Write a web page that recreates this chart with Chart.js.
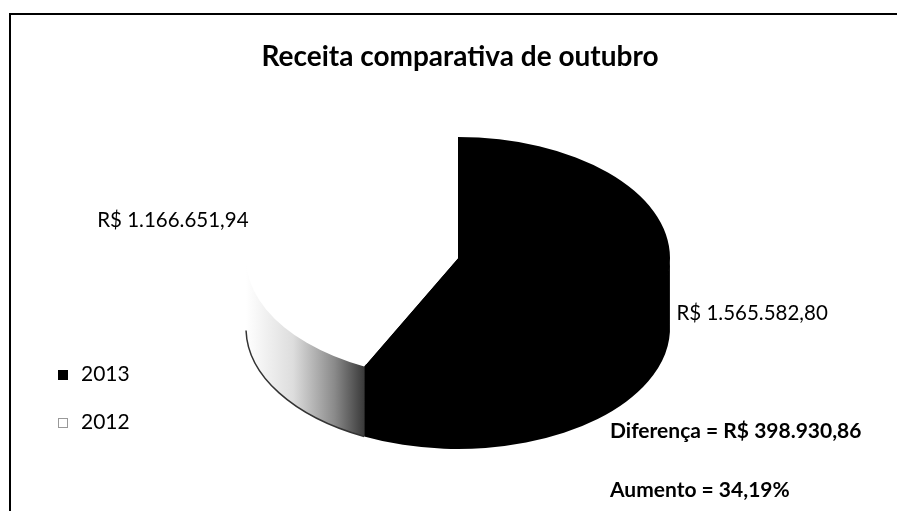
<!DOCTYPE html>
<html lang="pt-BR">
<head>
<meta charset="UTF-8">
<title>Receita comparativa de outubro</title>
<style>
  html, body { margin: 0; padding: 0; background: #fff; }
  #wrap { position: relative; width: 897px; height: 511px; overflow: hidden; }
  canvas { display: block; }
</style>
</head>
<body>
<div id="wrap"><canvas id="pie" width="897" height="511"></canvas></div>
<script src="https://cdn.jsdelivr.net/npm/chart.js"></script>
<script>
  // Chart data
  const title = 'Receita comparativa de outubro';
  const years = ['2013', '2012'];
  const revenue = [1565582.80, 1166651.94];
  const sliceColors = ['#000000', '#ffffff'];

  const brl = (v) => {
    const [i, d] = Math.abs(v).toFixed(2).split('.');
    return 'R$ ' + i.replace(/\B(?=(\d{3})+(?!\d))/g, '.') + ',' + d;
  };
  const pct = (v) => (v * 100).toFixed(2).replace('.', ',') + '%';

  const diff = revenue[0] - revenue[1];
  const growth = diff / revenue[1];

  const FONT = 'Lato, "Open Sans", sans-serif';
  const TILT = 121 / 212;   // vertical squash of the pie
  const DEPTH = 70;         // height of the pie side

  // draws the pie as a tilted disc with a visible side
  const tiltPlugin = {
    id: 'tilt',
    beforeDatasetsDraw(chart) {
      const ctx = chart.ctx;
      const arcs = chart.getDatasetMeta(0).data;
      if (!arcs.length) return;
      const cx = arcs[0].x, cy = arcs[0].y;
      const rx = arcs[0].outerRadius, ry = rx * TILT;

      arcs.forEach((arc, i) => {
        // only the front half (0..PI) of the side is visible
        const a = Math.max(arc.startAngle, -0.03);
        const b = Math.min(arc.endAngle, Math.PI + 0.03);
        if (b <= a) return;
        ctx.save();
        ctx.beginPath();
        // top edge pushed a bit under the top face so no seam shows
        ctx.moveTo(cx + rx * Math.cos(a), cy - 3 + ry * Math.sin(a));
        ctx.ellipse(cx, cy - 3, rx, ry, 0, a, b);
        ctx.lineTo(cx + rx * Math.cos(b), cy + ry * Math.sin(b) + DEPTH);
        ctx.ellipse(cx, cy + DEPTH, rx, ry, 0, b, a, true);
        ctx.closePath();
        if (sliceColors[i] === '#ffffff') {
          const g = ctx.createLinearGradient(cx - rx, 0, cx + rx * Math.cos(a), 0);
          g.addColorStop(0, '#ffffff');
          g.addColorStop(0.4, '#dddddd');
          g.addColorStop(0.75, '#8a8a8a');
          g.addColorStop(1, '#3a3a3a');
          ctx.fillStyle = g;
          ctx.fill();
          ctx.beginPath();
          ctx.ellipse(cx, cy + DEPTH, rx, ry, 0, b - 0.05, a, true);
          ctx.strokeStyle = '#333';
          ctx.lineWidth = 1.5;
          ctx.stroke();
        } else {
          ctx.fillStyle = sliceColors[i];
          ctx.fill();
        }
        ctx.restore();
      });

      ctx.save();
      ctx.translate(cx, cy);
      ctx.scale(1, TILT);
      ctx.translate(-cx, -cy);
    },
    afterDatasetsDraw(chart) {
      chart.ctx.restore();
    },
    afterDraw(chart) {
      const ctx = chart.ctx;
      const arcs = chart.getDatasetMeta(0).data;
      const cx = arcs[0].x, cy = arcs[0].y;
      const rx = arcs[0].outerRadius, ry = rx * TILT;
      ctx.save();

      // frame
      ctx.strokeStyle = '#000';
      ctx.lineWidth = 2;
      ctx.beginPath();
      ctx.moveTo(10, 511);
      ctx.lineTo(10, 14);
      ctx.lineTo(897, 14);
      ctx.stroke();

      ctx.fillStyle = '#000';
      ctx.textBaseline = 'middle';

      // title
      ctx.font = 'bold 28px ' + FONT;
      ctx.textAlign = 'center';
      ctx.fillText(title, 460, 57);

      // value labels
      ctx.font = '20.5px ' + FONT;
      arcs.forEach((arc, i) => {
        const mid = (arc.startAngle + arc.endAngle) / 2;
        const px = cx + rx * Math.cos(mid);
        const py = cy + ry * Math.sin(mid);
        if (Math.cos(mid) >= 0) {
          ctx.textAlign = 'left';
          ctx.fillText(brl(revenue[i]), px + 12, py + 28);
        } else {
          ctx.textAlign = 'right';
          ctx.fillText(brl(revenue[i]), px - 3, py - 10);
        }
      });

      // legend
      ctx.textAlign = 'left';
      ctx.font = '21px ' + FONT;
      years.forEach((y, i) => {
        const ly = 374 + i * 48;
        ctx.fillStyle = sliceColors[i];
        ctx.fillRect(58, ly - 4, 10, 10);
        ctx.strokeStyle = '#999';
        ctx.lineWidth = 1;
        if (sliceColors[i] === '#ffffff') ctx.strokeRect(58.5, ly - 3.5, 9, 9);
        ctx.fillStyle = '#000';
        ctx.fillText(y, 81, ly);
      });

      // notes
      ctx.font = 'bold 21px ' + FONT;
      ctx.fillText('Diferença = ' + brl(diff), 610, 431);
      ctx.fillText('Aumento = ' + pct(growth), 610, 490);
      ctx.restore();
    }
  };

  new Chart(document.getElementById('pie'), {
    type: 'pie',
    data: {
      labels: years,
      datasets: [{
        data: revenue,
        backgroundColor: sliceColors,
        borderWidth: 0,
        clip: false
      }]
    },
    options: {
      responsive: false,
      animation: false,
      layout: { padding: { left: 246, right: 227, top: 46, bottom: 41 } },
      plugins: {
        legend: { display: false },
        title: { display: false },
        tooltip: { enabled: false }
      }
    },
    plugins: [tiltPlugin]
  });
</script>
</body>
</html>
